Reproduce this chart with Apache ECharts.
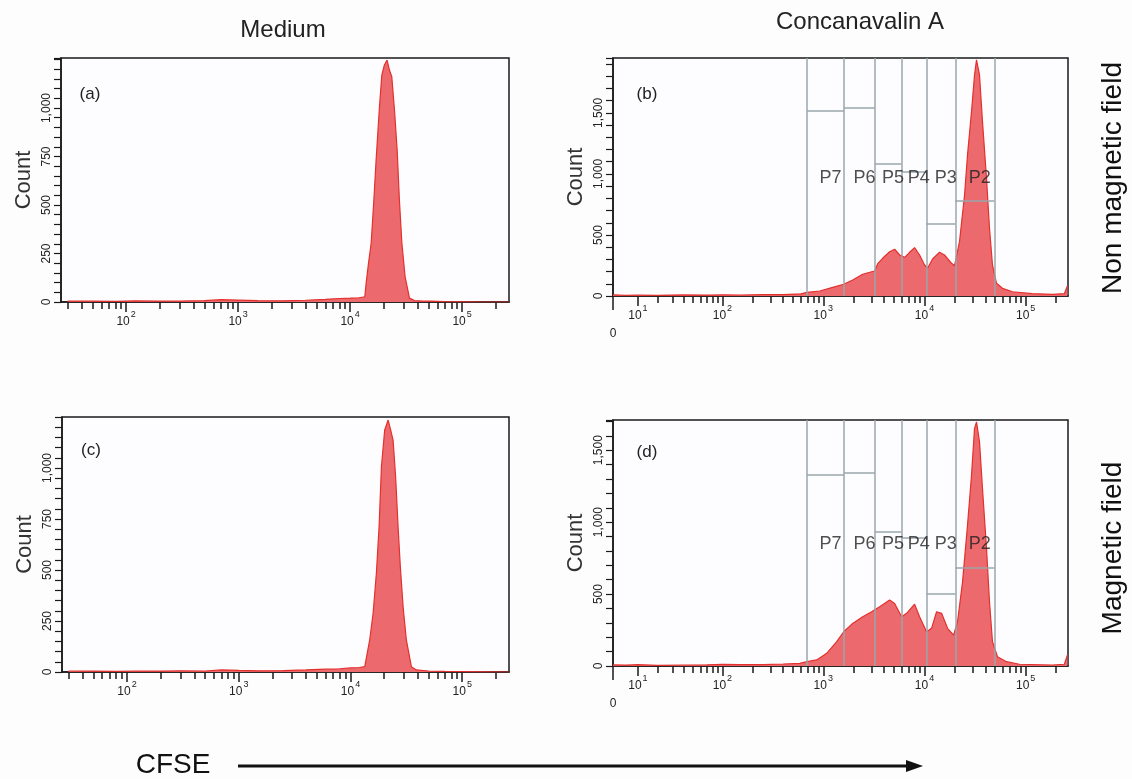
<!DOCTYPE html>
<html>
<head>
<meta charset="utf-8">
<script src="https://cdn.jsdelivr.net/npm/echarts@6/dist/echarts.min.js"></script>
<style>
html,body{margin:0;padding:0;background:#fdfdfe;}
#chart{width:1132px;height:779px;}
</style>
</head>
<body>
<div id="chart"></div>
<script>
// ---------------- DATA ----------------
// Panel (a) Medium, non magnetic field: CFSE intensity / count
const medNonX = [30, 50, 80, 120, 200, 300, 500, 700, 1000, 1500, 2500, 4000, 6000, 8000, 10000, 12000, 13520, 13900, 14590, 15420, 16290, 17060, 18280, 19190, 20230, 21380, 22440, 23550, 24890, 26300, 27540, 28970, 30970, 33880, 37580, 45000, 52840, 70000, 100000, 150000, 262144];
const medNonY = [4, 5, 3, 6, 4, 5, 7, 12, 10, 7, 6, 9, 14, 18, 20, 22, 27, 97, 200, 304, 526, 732, 1007, 1170, 1222, 1247, 1196, 1161, 990, 784, 526, 304, 130, 20, 7, 5, 4, 2, 1, 0, 0];
// Panel (c) Medium, magnetic field
const medMagX = [30, 50, 80, 120, 200, 300, 500, 700, 1000, 1500, 2500, 4000, 6000, 8000, 10000, 12000, 13420, 14860, 15950, 17060, 18030, 18920, 20230, 21730, 22910, 24050, 25350, 26670, 27930, 29580, 31620, 35070, 38820, 50000, 70000, 100000, 150000, 262144];
const medMagY = [5, 4, 3, 5, 4, 6, 5, 10, 8, 6, 7, 10, 14, 16, 20, 22, 26, 157, 289, 485, 712, 1006, 1186, 1235, 1186, 1137, 957, 712, 516, 320, 157, 26, 10, 5, 3, 2, 1, 0];
// Panel (b) Concanavalin A, non magnetic field
const conNonX = [0, 5, 10, 20, 40, 70, 100, 150, 250, 400, 600, 691, 922, 1239, 1591, 1952, 2450, 3006, 3220, 3470, 3860, 4525, 5072, 5683, 6366, 7131, 7989, 8948, 10025, 10730, 12024, 14095, 15790, 18520, 19820, 22200, 24890, 26640, 29170, 31230, 32680, 34990, 37440, 41040, 43920, 47010, 51520, 59030, 74060, 116570, 183900, 241300, 258350];
const conNonY = [10, 6, 8, 5, 9, 7, 10, 8, 11, 12, 18, 30, 41, 71, 96, 131, 178, 199, 205, 268, 309, 363, 383, 336, 317, 358, 396, 336, 254, 227, 303, 358, 336, 268, 248, 445, 828, 1156, 1511, 1811, 1934, 1811, 1429, 965, 555, 254, 104, 63, 35, 19, 14, 19, 82];
// Panel (d) Concanavalin A, magnetic field
const conMagX = [0, 5, 10, 20, 40, 70, 100, 150, 250, 400, 585, 691, 861, 1081, 1357, 1591, 1952, 2450, 3006, 3607, 4525, 5072, 5945, 6663, 7989, 8948, 10488, 11757, 13176, 14763, 16917, 19389, 21234, 23790, 26640, 29170, 31230, 32680, 34990, 37440, 41040, 43920, 47010, 52690, 64630, 86840, 183900, 241300, 258350];
const conMagY = [8, 6, 9, 5, 7, 8, 11, 9, 10, 14, 18, 30, 42, 88, 169, 238, 296, 342, 377, 412, 458, 435, 342, 366, 430, 342, 238, 262, 377, 366, 262, 215, 308, 585, 979, 1326, 1650, 1697, 1558, 1234, 817, 447, 169, 65, 30, 12, 7, 12, 76];

// Gates (division peaks), CFSE boundaries and gate bar heights (count)
const gateEdges = [691, 1600, 3238, 5904, 10421, 20140, 49230];
const gateNames = ['P7', 'P6', 'P5', 'P4', 'P3', 'P2'];
const gateTopNon = [1516, 1539, 1080, 1019, 588, 781];
const gateTopMag = [1331, 1343, 933, 891, 505, 683];
const gateLabelLevel = [965, 845];

// Axis ranges / ticks
const cfseMin = 26.2144, cfseMax = 262144;
const countMax = [1258, 1950, 1250, 1710];
const yLabelStep = [250, 500, 250, 500];
const yLabelTop = [1000, 1500, 1000, 1500];
const yTickStep = [50, 100, 50, 100];
const decades = [10, 100, 1000, 10000, 100000];

// ---------------- TRANSFORMS ----------------
const W = 16.7; // biexponential linear width
const logT = v => Math.log10(v);
const biexT = v => Math.asinh(v / W);
const biexInv = t => W * Math.sinh(t);

function minorValues(lo, hi) {
  const out = [];
  for (let n = 0; n <= 5; n++) for (let k = 2; k <= 9; k++) {
    const v = k * Math.pow(10, n);
    if (v >= lo && v <= hi) out.push(v);
  }
  return out;
}

const FONT = 'Liberation Sans, Arial, sans-serif';
const grids = [
  {left: 61, top: 58, width: 448, height: 244},
  {left: 613, top: 58, width: 455, height: 238},
  {left: 62, top: 417, width: 447, height: 255},
  {left: 613, top: 420, width: 455, height: 246}
];
const panels = [
  {xs: medNonX, ys: medNonY, biex: false},
  {xs: conNonX, ys: conNonY, biex: true, gates: gateTopNon, lab: gateLabelLevel[0]},
  {xs: medMagX, ys: medMagY, biex: false},
  {xs: conMagX, ys: conMagY, biex: true, gates: gateTopMag, lab: gateLabelLevel[1]}
];

const option = {
  animation: false,
  backgroundColor: '#fdfdfe',
  textStyle: {fontFamily: FONT},
  grid: grids.map(g => Object.assign({show: true, backgroundColor: '#fdfdff', borderColor: '#1a1a1a', borderWidth: 1.5}, g)),
  xAxis: [], yAxis: [], series: [],
  graphic: []
};

const supRich = {
  b: {fontSize: 12, color: '#222', fontFamily: FONT, lineHeight: 18, verticalAlign: 'bottom'},
  s: {fontSize: 9, color: '#222', fontFamily: FONT, lineHeight: 18, verticalAlign: 'top', padding: [0, 0, 0, 1]}
};

panels.forEach((p, i) => {
  const f = p.biex ? biexT : logT;
  const xmin = p.biex ? 0 : f(cfseMin);
  const xmax = f(cfseMax);
  const lo = p.biex ? 20 : cfseMin;
  const minors = minorValues(lo, cfseMax).map(f);
  const majors = (p.biex ? decades : decades.slice(1)).map(f);
  const base = option.xAxis.length;
  // data axis with minor ticks
  option.xAxis.push({
    type: 'value', gridIndex: i, min: xmin, max: xmax, position: 'bottom',
    axisLine: {show: true, onZero: false, lineStyle: {color: '#1a1a1a', width: 1.5}},
    axisTick: {show: true, customValues: minors, length: 7, lineStyle: {color: '#1a1a1a', width: 1.5}},
    axisLabel: {show: false}, splitLine: {show: false}
  });
  // decade ticks + labels
  option.xAxis.push({
    type: 'value', gridIndex: i, min: xmin, max: xmax, position: 'bottom',
    axisLine: {show: false},
    axisTick: {show: true, customValues: majors, length: 10, lineStyle: {color: '#1a1a1a', width: 1.5}},
    axisLabel: {
      show: true, customValues: majors, margin: 8,
      formatter: v => {
        const n = Math.round(Math.log10(p.biex ? biexInv(v) : Math.pow(10, v)));
        return '{b|10}{s|' + n + '}';
      },
      rich: supRich
    },
    splitLine: {show: false}
  });
  if (p.biex) {
    option.xAxis.push({
      type: 'value', gridIndex: i, min: xmin, max: xmax, position: 'bottom',
      axisLine: {show: false},
      axisTick: {show: true, customValues: [0], length: 14, lineStyle: {color: '#1a1a1a', width: 1.5}},
      axisLabel: {show: true, customValues: [0], margin: 32, fontSize: 12, color: '#222', formatter: () => '0'},
      splitLine: {show: false}
    });
  }
  option.yAxis.push({
    type: 'value', gridIndex: i, min: 0, max: countMax[i], interval: yTickStep[i],
    name: 'Count', nameLocation: 'middle', nameGap: 26,
    nameTextStyle: {fontSize: 22, color: '#333', fontFamily: FONT},
    axisLine: {show: true, lineStyle: {color: '#1a1a1a', width: 1.5}},
    axisTick: {show: true, length: 7, lineStyle: {color: '#1a1a1a', width: 1.2}},
    axisLabel: {
      rotate: 90, margin: 8, fontSize: 12, color: '#222', hideOverlap: false,
      formatter: v => (v % yLabelStep[i] === 0 && v <= yLabelTop[i]) ? v.toLocaleString('en-US') : ''
    },
    splitLine: {show: false}
  });
  const s = {
    type: 'line', xAxisIndex: base, yAxisIndex: i,
    data: p.xs.map((v, j) => [f(v), p.ys[j]]),
    symbol: 'none', showSymbol: false, silent: true,
    lineStyle: {color: '#e3302d', width: 1.2},
    areaStyle: {color: '#ec6a6d', opacity: 1},
    z: 2
  };
  if (p.gates) {
    const mlData = gateEdges.map(e => ({xAxis: f(e)}));
    p.gates.forEach((h, k) => {
      mlData.push([{coord: [f(gateEdges[k]), h]}, {coord: [f(gateEdges[k + 1]), h]}]);
    });
    s.markLine = {
      silent: true, symbol: ['none', 'none'], animation: false,
      label: {show: false},
      lineStyle: {color: '#9aa6ab', width: 1.5, type: 'solid'},
      emphasis: {disabled: true},
      data: mlData
    };
    option.series.push(s);
    option.series.push({
      type: 'scatter', xAxisIndex: base, yAxisIndex: i, silent: true,
      symbolSize: 0, z: 5,
      data: gateNames.map((nm, k) => [(f(gateEdges[k]) + f(gateEdges[k + 1])) / 2, p.lab, nm]),
      label: {
        show: true, position: 'inside', offset: [5, 0],
        formatter: d => d.value[2],
        fontSize: 18, color: '#222', fontFamily: FONT
      }
    });
  } else {
    option.series.push(s);
  }
});

// panel letters, titles, side labels, CFSE arrow
const txt = (x, y, text, size, extra) => ({
  type: 'text', x: x, y: y, silent: true,
  style: Object.assign({text: text, fontSize: size, fontFamily: FONT, fill: '#222', align: 'center', verticalAlign: 'middle'}, extra || {})
});
option.graphic = [
  txt(90, 94, '(a)', 17),
  txt(647, 94, '(b)', 17),
  txt(91, 450, '(c)', 17),
  txt(647, 452, '(d)', 17),
  txt(283, 30, 'Medium', 24),
  txt(860, 22, 'Concanavalin A', 24),
  Object.assign(txt(1113, 178, 'Non magnetic field', 28, {fill: '#111'}), {rotation: Math.PI / 2}),
  Object.assign(txt(1113, 548, 'Magnetic field', 28, {fill: '#111'}), {rotation: Math.PI / 2}),
  txt(173, 765, 'CFSE', 28, {fill: '#111'}),
  {type: 'line', silent: true, shape: {x1: 238, y1: 766, x2: 910, y2: 766}, style: {stroke: '#111', lineWidth: 3}},
  {type: 'polygon', silent: true, shape: {points: [[906, 760], [923, 766], [906, 772]]}, style: {fill: '#111'}}
];

const chart = echarts.init(document.getElementById('chart'), null, {renderer: 'canvas'});
chart.setOption(option);
</script>
</body>
</html>
